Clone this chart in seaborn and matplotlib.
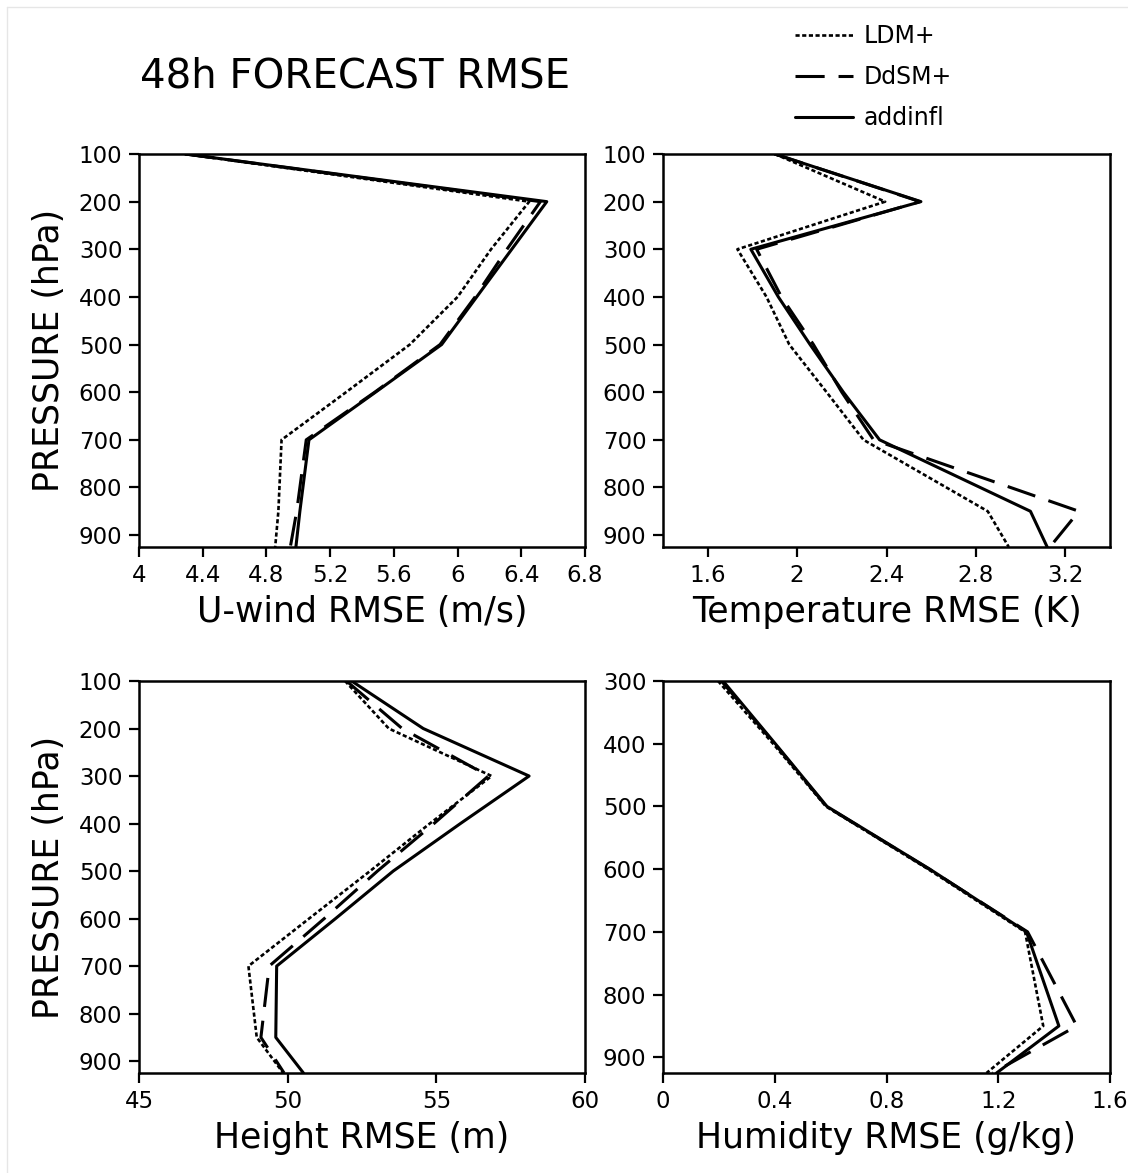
import numpy as np
import pandas as pd
import matplotlib
matplotlib.use("Agg")
import matplotlib.pyplot as plt
from matplotlib.lines import Line2D
import seaborn as sns

# ---------------- data ----------------
levels = [100, 200, 300, 400, 500, 600, 700, 850, 925]
q_levels = [300, 400, 500, 600, 700, 850, 925]
methods = ["LDM+", "DdSM+", "addinfl"]

u_ldm = [4.29, 6.45, 6.21, 6.00, 5.70, 5.30, 4.895, 4.875, 4.855]
u_ddsm = [4.29, 6.52, 6.31, 6.11, 5.89, 5.48, 5.05, 4.99, 4.95]
u_add = [4.29, 6.56, 6.34, 6.12, 5.90, 5.485, 5.067, 5.01, 4.985]

t_ldm = [1.90, 2.394, 1.733, 1.863, 1.965, 2.132, 2.297, 2.853, 2.947]
t_ddsm = [1.90, 2.55, 1.819, 1.93, 2.073, 2.20, 2.342, 3.261, 3.131]
t_add = [1.90, 2.554, 1.793, 1.916, 2.058, 2.207, 2.369, 3.044, 3.119]

z_ldm = [51.93, 53.40, 56.86, 54.78, 52.77, 50.72, 48.68, 48.96, 49.85]
z_ddsm = [51.98, 53.85, 56.75, 54.92, 53.02, 51.23, 49.38, 49.10, 49.88]
z_add = [52.15, 54.56, 58.12, 55.81, 53.55, 51.61, 49.63, 49.60, 50.53]

q_ldm = [0.197, 0.394, 0.583, 0.949, 1.296, 1.361, 1.158]
q_ddsm = [0.209, 0.400, 0.585, 0.953, 1.305, 1.481, 1.180]
q_add = [0.215, 0.402, 0.587, 0.955, 1.301, 1.417, 1.194]

u_ticks = [4, 4.4, 4.8, 5.2, 5.6, 6, 6.4, 6.8]
u_ticklabels = ["4", "4.4", "4.8", "5.2", "5.6", "6", "6.4", "6.8"]
t_ticks = [1.6, 2.0, 2.4, 2.8, 3.2]
t_ticklabels = ["1.6", "2", "2.4", "2.8", "3.2"]
z_ticks = [45, 50, 55, 60]
z_ticklabels = ["45", "50", "55", "60"]
q_ticks = [0, 0.4, 0.8, 1.2, 1.6]
q_ticklabels = ["0", "0.4", "0.8", "1.2", "1.6"]
p_ticks = [100, 200, 300, 400, 500, 600, 700, 800, 900]
pq_ticks = [300, 400, 500, 600, 700, 800, 900]

title = "48h FORECAST RMSE"
ylabel = "PRESSURE (hPa)"
xlabels = ["U-wind RMSE (m/s)", "Temperature RMSE (K)", "Height RMSE (m)", "Humidity RMSE (g/kg)"]

# ---------------- style ----------------
sns.set_style("white")
plt.rcParams["font.family"] = ["DejaVu Sans"]
plt.rcParams["lines.scale_dashes"] = False
plt.rcParams["text.color"] = "black"

W, H = 1128, 1173
fig = plt.figure(figsize=(W / 100, H / 100), dpi=100)

def frac_ax(x0, y0, x1, y1):
    return fig.add_axes([x0 / W, 1 - y1 / H, (x1 - x0) / W, (y1 - y0) / H])

axes = [
    frac_ax(139, 154, 585, 547),
    frac_ax(663, 154, 1110, 547),
    frac_ax(139, 681, 585, 1073),
    frac_ax(663, 681, 1110, 1073),
]

styles = {
    "LDM+": dict(lw=1.9, ls=(0, (3.0, 1.8))),
    "DdSM+": dict(lw=2.2, ls=(0, (21.0, 10.0))),
    "addinfl": dict(lw=2.2, ls="-"),
}

panels = [
    (levels, [u_ldm, u_ddsm, u_add], (4, 6.8), u_ticks, u_ticklabels, (925, 100), p_ticks),
    (levels, [t_ldm, t_ddsm, t_add], (1.4, 3.4), t_ticks, t_ticklabels, (925, 100), p_ticks),
    (levels, [z_ldm, z_ddsm, z_add], (45, 60), z_ticks, z_ticklabels, (925, 100), p_ticks),
    (q_levels, [q_ldm, q_ddsm, q_add], (0, 1.6), q_ticks, q_ticklabels, (925, 300), pq_ticks),
]

for i, (ax, (lev, series, xlim, xt, xtl, ylim, yt)) in enumerate(zip(axes, panels)):
    for name, vals in zip(methods, series):
        df = pd.DataFrame({"rmse": vals, "p": lev})
        sns.lineplot(data=df, x="rmse", y="p", sort=False, estimator=None,
                     color="black", linewidth=styles[name]["lw"],
                     linestyle=styles[name]["ls"], ax=ax, label=name, legend=False)
    ax.set_xlim(*xlim)
    ax.set_ylim(*ylim)
    ax.set_xticks(xt)
    ax.set_xticklabels(xtl)
    ax.set_yticks(yt)
    ax.set_yticklabels([str(v) for v in yt])
    ax.tick_params(axis="both", which="major", direction="out", length=7, width=1.6,
                   labelsize=16.5, color="black", labelcolor="black",
                   bottom=True, left=True, top=False, right=False, pad=5)
    for s in ax.spines.values():
        s.set_linewidth(1.8)
        s.set_color("black")
    ax.set_xlabel(xlabels[i], fontsize=25, color="black")
    ax.xaxis.set_label_coords(0.5, -0.122)
    if i in (0, 2):
        ax.set_ylabel(ylabel, fontsize=25, color="black")
        ax.yaxis.set_label_coords(-0.163, 0.5)
    else:
        ax.set_ylabel("")

fig.text(140 / W, 1 - 76 / H, title, fontsize=29, ha="left", va="center", color="black")

handles = [Line2D([], [], color="black", linewidth=styles[m]["lw"], linestyle=styles[m]["ls"])
           for m in methods]
fig.legend(handles, methods, loc="upper left", bbox_to_anchor=(795 / W, 1 - 24 / H),
           frameon=False, fontsize=17, handlelength=2.45, handletextpad=0.45,
           labelspacing=0.72, borderpad=0, borderaxespad=0, labelcolor="black")

fig.add_artist(Line2D([7 / W, 7 / W], [0, 1 - 7 / H], color="#e6e6e6", lw=1))
fig.add_artist(Line2D([7 / W, 1], [1 - 7 / H, 1 - 7 / H], color="#e6e6e6", lw=1))

fig.savefig("out.png", dpi=100)
